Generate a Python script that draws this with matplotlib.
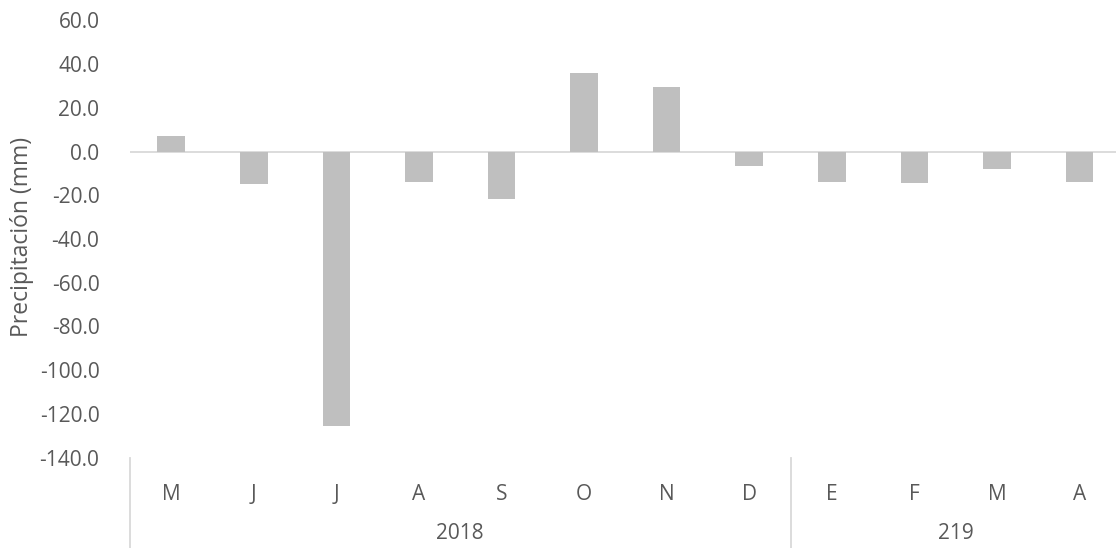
import matplotlib
matplotlib.use("Agg")
import matplotlib.pyplot as plt
import matplotlib.transforms as mtransforms

# Monthly precipitation anomaly (mm)
months = ["M", "J", "J", "A", "S", "O", "N", "D", "E", "F", "M", "A"]
values = [7.2, -14.8, -125.8, -14.0, -21.8, 35.8, 29.7, -6.4, -13.9, -14.2, -8.0, -14.0]
years = ["2018", "219"]
months_per_year = [8, 4]

text_color = "#595959"
bar_color = "#BFBFBF"
axis_color = "#D9D9D9"
font = "Open Sans"

plt.rcParams["font.family"] = [font, "DejaVu Sans"]

fig = plt.figure(figsize=(11.16, 5.48), dpi=100)
ax = fig.add_axes([130 / 1116, 1 - 457.5 / 548, 990.75 / 1116, 437 / 548])

x = list(range(len(months)))
ax.bar(x, values, width=0.335, color=bar_color, zorder=2)
ax.axhline(0, color=axis_color, lw=1.3, zorder=1)

ax.set_xlim(-0.5, len(months) - 0.5)
ax.set_ylim(-140, 60)
ax.set_yticks(range(-140, 61, 20))
ax.set_yticklabels([f"{v:.1f}" for v in range(-140, 61, 20)])

ax.set_xticks(x)
ax.set_xticklabels(months)

for s in ax.spines.values():
    s.set_visible(False)
ax.tick_params(axis="y", length=0, pad=22, labelsize=15, labelcolor=text_color)
ax.tick_params(axis="x", length=0, pad=19, labelsize=15, labelcolor=text_color)

# Axis title, centred on the plotting area
fig.text(22.5 / 1116, 1 - 237 / 548, "Precipitación (mm)", rotation=90,
         ha="center", va="center", fontsize=16.5, color=text_color)

# Second-level category axis: years with group separators
trans = mtransforms.blended_transform_factory(ax.transData, ax.transAxes)
start = 0
bounds = [-0.5]
for year, n in zip(years, months_per_year):
    center = start + (n - 1) / 2
    ax.text(center, -0.174, year, transform=trans, ha="center", va="center",
            fontsize=15, color=text_color)
    start += n
    bounds.append(start - 0.5)
for b in bounds:
    ax.plot([b, b], [0, -0.3], transform=trans, color=axis_color, lw=1.3,
            clip_on=False)

fig.savefig("out.png", dpi=100)
